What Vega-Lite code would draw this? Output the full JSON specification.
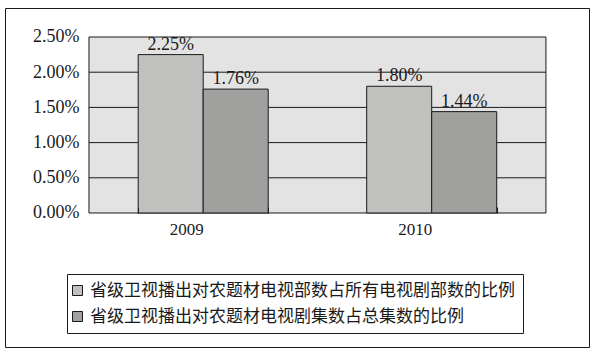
{
  "$schema": "https://vega.github.io/schema/vega-lite/v6.json",
  "width": 584,
  "height": 339,
  "autosize": {"type": "none"},
  "padding": {"left": 5, "top": 8, "right": 10, "bottom": 9},
  "background": "white",
  "config": {
    "view": {"stroke": "#1a1a1a", "strokeWidth": 1, "fill": "white"},
    "font": "Liberation Serif",
    "text": {"font": "Liberation Serif"}
  },
  "datasets": {
    "main": [
      {"year": "2009", "series": "省级卫视播出对农题材电视部数占所有电视剧部数的比例", "value": 0.0225},
      {"year": "2009", "series": "省级卫视播出对农题材电视剧集数占总集数的比例", "value": 0.0176},
      {"year": "2010", "series": "省级卫视播出对农题材电视部数占所有电视剧部数的比例", "value": 0.018},
      {"year": "2010", "series": "省级卫视播出对农题材电视剧集数占总集数的比例", "value": 0.0144}
    ],
    "grid": [{"g": 0.005}, {"g": 0.01}, {"g": 0.015}, {"g": 0.02}]
  },
  "layer": [
    {
      "data": {"values": [{"lo": 0, "hi": 0.025}]},
      "mark": {"type": "rect", "fill": "#e3e3e3", "stroke": "#1a1a1a", "strokeWidth": 1},
      "encoding": {
        "x": {"datum": "2009", "type": "nominal", "bandPosition": -0.3787},
        "x2": {"datum": "2010", "bandPosition": 1.3787},
        "y": {"field": "lo", "type": "quantitative"},
        "y2": {"field": "hi"}
      }
    },
    {
      "data": {"name": "grid"},
      "mark": {"type": "rule", "color": "#1a1a1a", "strokeWidth": 1},
      "encoding": {
        "x": {"datum": "2009", "type": "nominal", "bandPosition": -0.3787},
        "x2": {"datum": "2010", "bandPosition": 1.3787},
        "y": {"field": "g", "type": "quantitative"}
      }
    },
    {
      "data": {"name": "main"},
      "mark": {"type": "bar", "stroke": "#1a1a1a", "strokeWidth": 1},
      "encoding": {
        "x": {
          "field": "year", "type": "nominal",
          "scale": {"type": "band", "domain": ["2009", "2010"], "paddingInner": 0.431, "paddingOuter": 0.4934, "align": 0.5907},
          "axis": {
            "orient": "bottom", "offset": -134, "title": null, "domain": false,
            "tickBand": "extent", "tickSize": -6, "tickColor": "#1a1a1a", "tickWidth": 1,
            "labelAngle": 0, "labelFont": "Liberation Serif", "labelFontSize": 17, "labelColor": "#1a1a1a",
            "labelPadding": 14, "labelBaseline": "top", "zindex": 1
          }
        },
        "xOffset": {
          "field": "series", "type": "nominal",
          "sort": ["省级卫视播出对农题材电视部数占所有电视剧部数的比例", "省级卫视播出对农题材电视剧集数占总集数的比例"],
          "scale": {"paddingInner": 0, "paddingOuter": 0}
        },
        "y": {
          "field": "value", "type": "quantitative",
          "scale": {"domain": [-0.0190341, 0.0291193], "nice": false, "zero": false},
          "axis": {
            "orient": "left", "offset": -84, "title": null, "domain": false, "ticks": false, "tickSize": 0, "grid": false,
            "values": [0, 0.005, 0.01, 0.015, 0.02, 0.025], "format": ".2%",
            "labelFont": "Liberation Serif", "labelFontSize": 18, "labelColor": "#1a1a1a", "labelPadding": 10
          }
        },
        "color": {
          "field": "series", "type": "nominal",
          "scale": {"domain": ["省级卫视播出对农题材电视部数占所有电视剧部数的比例", "省级卫视播出对农题材电视剧集数占总集数的比例"], "range": ["#c0c1bf", "#a0a19f"]},
          "legend": {
            "orient": "none", "legendX": 62, "legendY": 266, "direction": "vertical", "title": null,
            "strokeColor": "#1a1a1a", "fillColor": "white", "padding": 8,
            "symbolType": "square", "symbolSize": 100, "symbolStrokeColor": "#1a1a1a", "symbolStrokeWidth": 1,
            "symbolOffset": -6,
            "labelFont": "Liberation Serif, Noto Sans CJK SC", "labelFontSize": 17, "labelColor": "#1a1a1a",
            "labelLimit": 600, "labelOffset": 4, "rowPadding": 8
          }
        }
      }
    },
    {
      "data": {"name": "main"},
      "mark": {"type": "text", "baseline": "bottom", "dy": -1, "fontSize": 18, "font": "Liberation Serif", "color": "#1a1a1a"},
      "encoding": {
        "x": {"field": "year", "type": "nominal"},
        "xOffset": {"field": "series", "type": "nominal", "sort": ["省级卫视播出对农题材电视部数占所有电视剧部数的比例", "省级卫视播出对农题材电视剧集数占总集数的比例"]},
        "y": {"field": "value", "type": "quantitative"},
        "text": {"field": "value", "type": "quantitative", "format": ".2%"}
      }
    }
  ]
}
